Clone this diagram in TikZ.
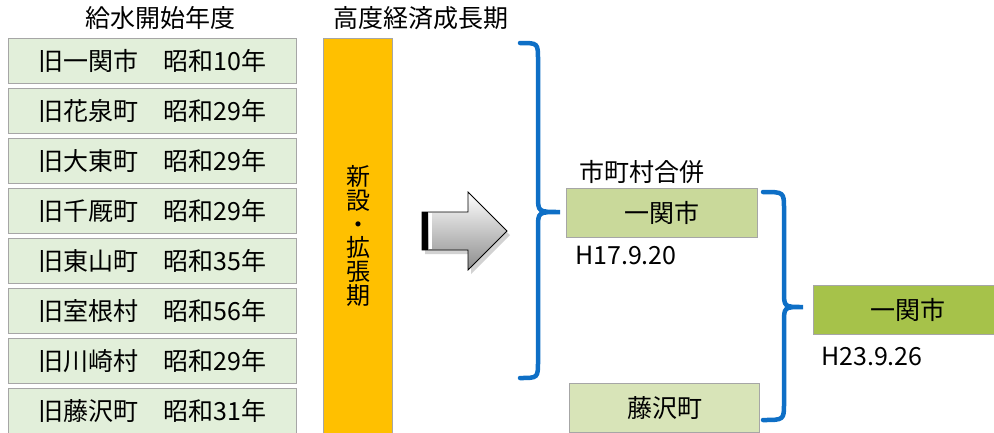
\documentclass[tikz,border=0pt]{standalone}
\usepackage{fontspec}
\setmainfont{Noto Sans CJK JP}
\usetikzlibrary{shadows}
\definecolor{leftfill}{HTML}{E2EFDA}
\definecolor{barfill}{HTML}{FFC000}
\definecolor{olivea}{HTML}{C9D99A}
\definecolor{oliveb}{HTML}{D8E4B8}
\definecolor{olivec}{HTML}{A6C24A}
\definecolor{bracecol}{HTML}{0E6FC6}
\definecolor{edgecol}{HTML}{A6A6A6}
\begin{document}
\begin{tikzpicture}[x=1pt,y=-1pt,
  txt/.style={font=\fontsize{25}{30}\selectfont, inner sep=0pt},
  yearbox/.style={draw=edgecol, line width=1.3pt, fill=leftfill, minimum width=288pt, minimum height=45pt, anchor=north west, inner sep=0pt, font=\fontsize{25}{30}\selectfont},
  mergebox/.style={draw=edgecol, line width=1.3pt, minimum height=49pt, inner sep=0pt, anchor=north west, font=\fontsize{25}{30}\selectfont},
  bracepath/.style={draw=bracecol, line width=4.5pt, line cap=round}
]
\useasboundingbox (0,0) rectangle (994,432);
\clip (0,0) rectangle (994,432);

% headers
\node[txt] (h1) at (160,18) {給水開始年度};
\node[txt] (h2) at (421,18) {高度経済成長期};

% left boxes
\node[yearbox] (b1) at (8,38)  {旧一関市　昭和10年};
\node[yearbox] (b2) at (8,88)  {旧花泉町　昭和29年};
\node[yearbox] (b3) at (8,138) {旧大東町　昭和29年};
\node[yearbox] (b4) at (8,188) {旧千厩町　昭和29年};
\node[yearbox] (b5) at (8,238) {旧東山町　昭和35年};
\node[yearbox] (b6) at (8,288) {旧室根村　昭和56年};
\node[yearbox] (b7) at (8,338) {旧川崎村　昭和29年};
\node[yearbox] (b8) at (8,388) {旧藤沢町　昭和31年};

% orange bar
\node[draw=edgecol, line width=1.2pt, fill=barfill, minimum width=69pt, minimum height=410pt, anchor=north west, inner sep=0pt] (bar) at (323,38) {};
\node[font=\fontsize{24}{23.7}\selectfont, align=center, inner sep=0pt] (vt) at (358,236) {新\\設\\・\\拡\\張\\期};

% big arrow
\fill[black!35, opacity=0.5] (425,216) -- (471,216) -- (471,196) -- (510,235) -- (471,274) -- (471,254) -- (425,254) -- cycle;
\shade[top color=white, bottom color=black!45, draw=black, line width=0.8pt]
  (422,212) -- (468,212) -- (468,192) -- (507,231) -- (468,270) -- (468,250) -- (422,250) -- cycle;
\fill[black] (422,212) rectangle (428,250);
\fill[white] (428.5,213) rectangle (432,249);

% brace 1
\coordinate (p1t) at (520,43);
\coordinate (p1tip) at (560,212);
\coordinate (p1b) at (520,378);
\draw[bracepath] (p1t) .. controls (538,43) .. (538,60) -- (538,196) .. controls (538,212) .. (p1tip)
  .. controls (538,212) .. (538,228) -- (538,361) .. controls (538,378) .. (p1b);

% merger 1
\node[txt, anchor=west] (mg) at (579,172) {市町村合併};
\node[mergebox, fill=olivea, minimum width=191pt] (m1) at (566,188) {一関市};
\node[txt, anchor=west] (d1) at (575,255) {H17.9.20};
\node[mergebox, fill=oliveb, minimum width=190pt] (m2) at (569,383) {藤沢町};

% brace 2
\coordinate (p2t) at (763,192);
\coordinate (p2tip) at (803,307);
\coordinate (p2b) at (763,420);
\draw[bracepath] (p2t) .. controls (784,192) .. (784,209) -- (784,291) .. controls (784,307) .. (p2tip)
  .. controls (784,307) .. (784,323) -- (784,403) .. controls (784,420) .. (p2b);

% final
\node[mergebox, fill=olivec, minimum width=188pt] (m3) at (813,285) {一関市};
\node[txt, anchor=west] (d2) at (821,356) {H23.9.26};
\end{tikzpicture}
\end{document}
